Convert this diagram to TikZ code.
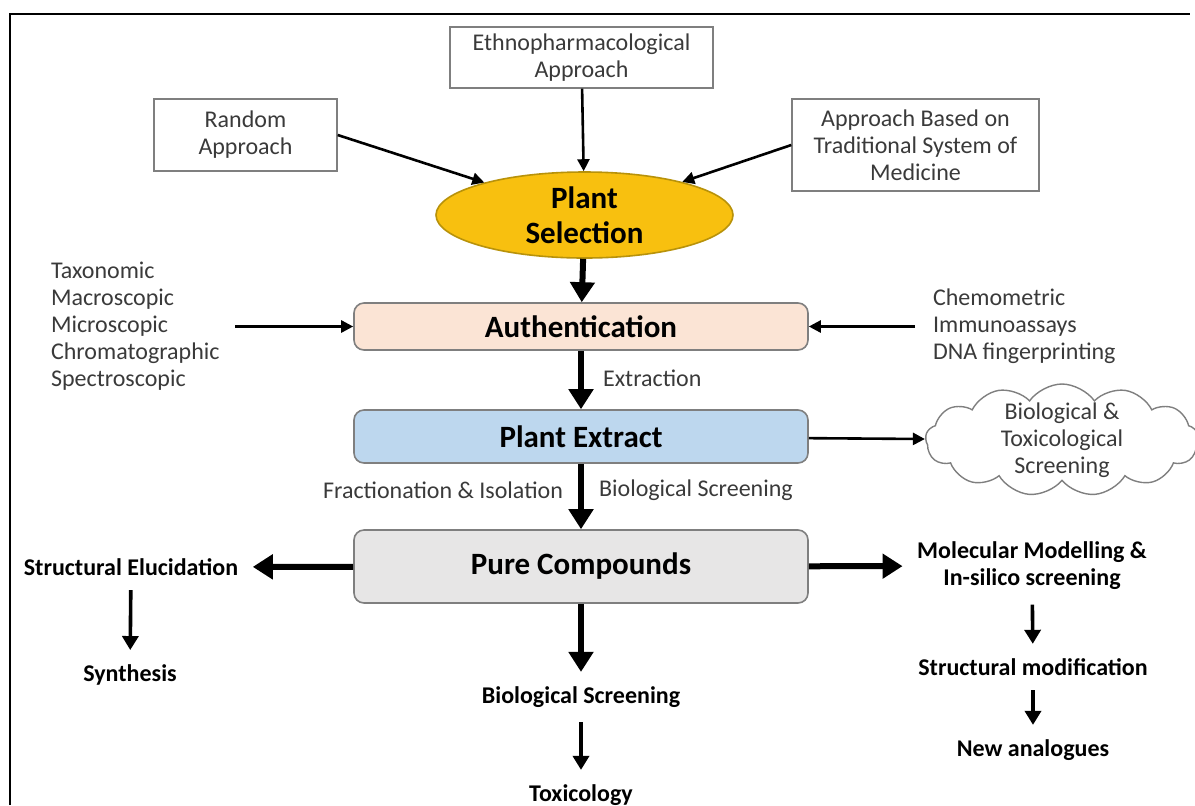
\documentclass[tikz,border=0pt]{standalone}
\usepackage{fontspec}
\setmainfont{Carlito}
\usetikzlibrary{arrows.meta,shapes.geometric,shapes.symbols}
\definecolor{selgold}{HTML}{F8C00F}
\definecolor{selline}{HTML}{B8920A}
\definecolor{authpeach}{HTML}{FBE4D5}
\definecolor{extrblue}{HTML}{BDD7EE}
\definecolor{puregray}{HTML}{E7E6E6}
\definecolor{boxline}{HTML}{7F7F7F}
\definecolor{txtgray}{HTML}{3A3A3A}

\begin{document}
\begin{tikzpicture}[x=0.5pt,y=-0.5pt,
    plaintext/.style={font=\fontsize{12}{13.5}\selectfont,text=txtgray,align=center},
    approach/.style={plaintext,draw=boxline,line width=0.7pt,inner sep=0pt},
    stage/.style={draw=boxline,line width=0.8pt,rounded corners=5pt,minimum width=227pt,font=\fontsize{15.5}{18}\selectfont\bfseries,text=black},
    result/.style={font=\fontsize{12}{13.5}\selectfont\bfseries,align=center,outer sep=4pt},
    slimarrow/.style={line width=1.3pt,-{Triangle[length=6pt,width=6pt]}},
    midarrow/.style={line width=1.8pt,-{Triangle[length=7pt,width=8pt]}},
    bigarrow/.style={line width=3pt,-{Triangle[length=10pt,width=12pt]}}]

    \useasboundingbox (0,0) rectangle (1195,805);
    % Frame
    \draw[line width=1pt] (10,805) -- (10,14) -- (1190,14);

    % Approaches
    \node[approach,minimum width=131.5pt,minimum height=30.5pt] (ethno) at (581.5,57.5) {Ethnopharmacological\\Approach};
    \node[approach,minimum width=91.5pt,minimum height=36pt] (rnd) at (245.5,135) {Random\\Approach};
    \node[approach,minimum width=123.5pt,minimum height=46pt] (trad) at (915.5,145) {Approach Based on\\Traditional System of\\Medicine};

    % Main stages
    \node[ellipse,draw=selline,fill=selgold,line width=0.8pt,minimum width=148.5pt,minimum height=43pt,inner sep=0pt,align=center,font=\fontsize{15.5}{17.5}\selectfont\bfseries] (sel) at (584.5,215) {Plant\\Selection};
    \node[stage,fill=authpeach,minimum height=23.5pt] (auth) at (581,326.5) {Authentication};
    \node[stage,fill=extrblue,minimum height=26.5pt] (extr) at (581,436.5) {Plant Extract};
    \node[stage,fill=puregray,minimum height=36.5pt] (pure) at (581,566.5) {Pure Compounds};

    % Authentication methods
    \node[plaintext,align=left,anchor=west] (methl) at (44,326) {Taxonomic\\Macroscopic\\Microscopic\\Chromatographic\\Spectroscopic};
    \node[plaintext,align=left,anchor=west] (methr) at (926,326) {Chemometric\\Immunoassays\\DNA fingerprinting};
    \coordinate (inl) at (235,326.5);
    \coordinate (inr) at (915,326.5);

    % Step labels
    \node[plaintext,anchor=west] (extrlbl) at (596,378) {Extraction};
    \node[plaintext,anchor=east] (fraclbl) at (570,490) {Fractionation \& Isolation};
    \node[plaintext,anchor=west] (biolbl) at (592,490) {Biological Screening};

    % Screening cloud
    \node[cloud,draw=boxline,line width=0.7pt,cloud puffs=13,cloud puff arc=110,aspect=3,minimum width=136.5pt,minimum height=56pt,inner sep=-7pt,plaintext] (cloud) at (1062,440) {Biological \&\\Toxicological\\Screening};

    % Results
    \node[result] (struct) at (131,567) {Structural Elucidation};
    \node[result] (synth) at (130,675) {Synthesis};
    \node[result] (molmod) at (1032,566) {Molecular Modelling \&\\In-silico screening};
    \node[result] (strmod) at (1033,667) {Structural modification};
    \node[result] (newan) at (1033,750) {New analogues};
    \node[result] (bioscr) at (581,697) {Biological Screening};
    \node[result] (tox) at (581,795) {Toxicology};

    % Arrows
    \draw[slimarrow] (ethno) -- (sel);
    \draw[slimarrow] (rnd.east) -- (sel);
    \draw[slimarrow] (trad.west) -- (sel);
    \draw[bigarrow] (sel) -- (auth);
    \draw[slimarrow] (inl) -- (auth.west);
    \draw[slimarrow] (inr) -- (auth.east);
    \draw[bigarrow] (auth) -- (extr);
    \draw[slimarrow] (extr) -- (cloud);
    \draw[bigarrow] (extr) -- (pure);
    \draw[bigarrow] (pure) -- (struct);
    \draw[bigarrow] (pure) -- (molmod);
    \draw[bigarrow] (pure) -- (bioscr);
    \draw[midarrow] (struct) -- (synth);
    \draw[midarrow] (molmod) -- (strmod);
    \draw[midarrow] (strmod) -- (newan);
    \draw[midarrow] (bioscr) -- (tox);
\end{tikzpicture}
\end{document}
